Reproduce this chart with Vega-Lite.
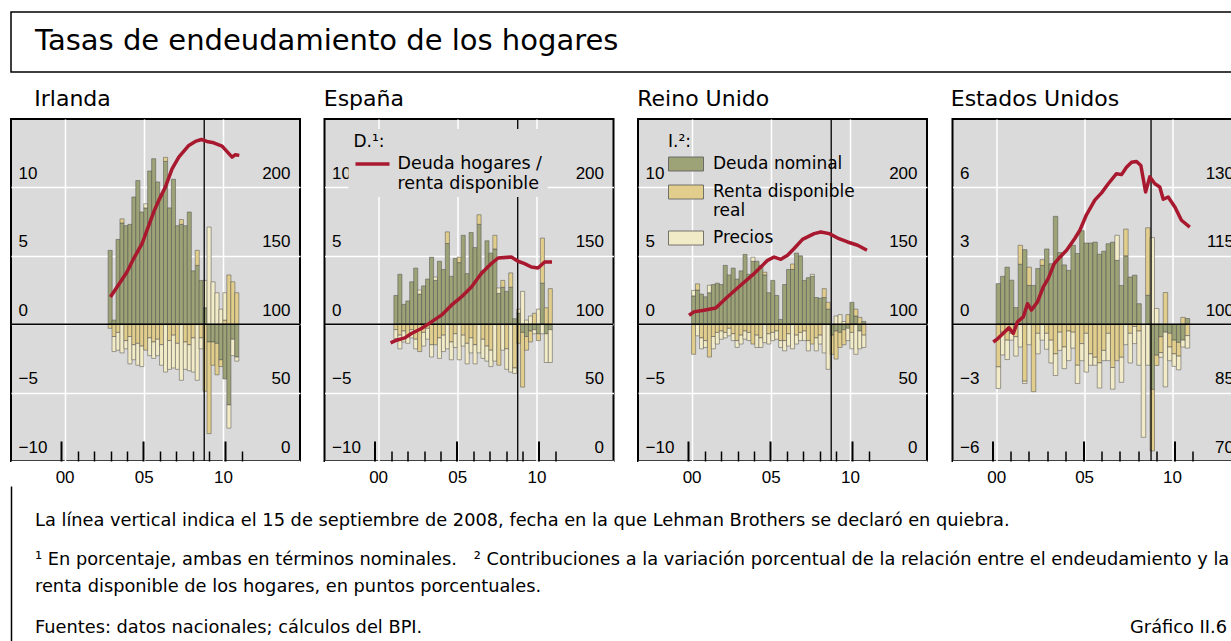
{
 "$schema": "https://vega.github.io/schema/vega-lite/v6.json",
 "background": "white",
 "padding": {"left": 9, "top": 11, "right": 0, "bottom": 0},
 "datasets": {
  "ie": [
   {"t":2002.875,"deuda":5.4,"disp":-0.3,"precios":0},
   {"t":2003.125,"deuda":0.3,"disp":-0.9,"precios":-1.1},
   {"t":2003.375,"deuda":6.2,"disp":-0.6,"precios":-1.3},
   {"t":2003.625,"deuda":7.4,"disp":0.3,"precios":-2.1},
   {"t":2003.875,"deuda":7.2,"disp":-1.2,"precios":-0.6},
   {"t":2004.125,"deuda":7.3,"disp":-0.9,"precios":-2.0},
   {"t":2004.375,"deuda":9.3,"disp":-1.5,"precios":-1.1},
   {"t":2004.625,"deuda":10.5,"disp":-1.4,"precios":-1.6},
   {"t":2004.875,"deuda":8.2,"disp":-1.6,"precios":-1.5},
   {"t":2005.125,"deuda":8.5,"disp":-1.9,"precios":0.3},
   {"t":2005.375,"deuda":11.2,"disp":-1.0,"precios":-1.3},
   {"t":2005.625,"deuda":12.1,"disp":-1.3,"precios":-1.2},
   {"t":2005.875,"deuda":10.4,"disp":-1.1,"precios":-1.2},
   {"t":2006.125,"deuda":9.5,"disp":-1.5,"precios":-1.5},
   {"t":2006.375,"deuda":11.9,"disp":0.3,"precios":-3.5},
   {"t":2006.625,"deuda":8.5,"disp":-1.2,"precios":-2.1},
   {"t":2006.875,"deuda":10.6,"disp":-0.8,"precios":-2.4},
   {"t":2007.125,"deuda":7.2,"disp":-1.4,"precios":-1.9},
   {"t":2007.375,"deuda":7.3,"disp":0.35,"precios":-4.1},
   {"t":2007.625,"deuda":7.2,"disp":-1.3,"precios":-2.0},
   {"t":2007.875,"deuda":8.2,"disp":-1.5,"precios":-1.9},
   {"t":2008.125,"deuda":3.9,"disp":-1.0,"precios":-2.5},
   {"t":2008.375,"deuda":4.3,"disp":1.1,"precios":-4.1},
   {"t":2008.625,"deuda":3.2,"disp":-1.0,"precios":-0.8},
   {"t":2008.875,"deuda":1.2,"disp":-4.9,"precios":2.0},
   {"t":2009.125,"deuda":-1.3,"disp":-6.7,"precios":7.1},
   {"t":2009.375,"deuda":-1.3,"disp":-1.7,"precios":3.1},
   {"t":2009.625,"deuda":-1.4,"disp":-2.3,"precios":2.3},
   {"t":2009.875,"deuda":-2.6,"disp":-0.5,"precios":1.1},
   {"t":2010.125,"deuda":-4.0,"disp":0.3,"precios":2.0},
   {"t":2010.375,"deuda":-5.9,"disp":3.6,"precios":-1.7},
   {"t":2010.625,"deuda":-1.1,"disp":3.1,"precios":-1.2},
   {"t":2010.875,"deuda":-2.4,"disp":2.3,"precios":-0.3}
  ],
  "es": [
   {"t":2001.125,"deuda":2.1,"disp":-0.4,"precios":-0.65},
   {"t":2001.375,"deuda":3.65,"disp":-0.8,"precios":-1.0},
   {"t":2001.625,"deuda":1.45,"disp":-0.5,"precios":-0.8},
   {"t":2001.875,"deuda":1.7,"disp":-0.9,"precios":-0.5},
   {"t":2002.125,"deuda":3.1,"disp":-0.4,"precios":-0.6},
   {"t":2002.375,"deuda":4.1,"disp":-1.1,"precios":-0.7},
   {"t":2002.625,"deuda":2.2,"disp":-2.0,"precios":0.3},
   {"t":2002.875,"deuda":2.8,"disp":-0.6,"precios":-1.0},
   {"t":2003.125,"deuda":3.3,"disp":-0.3,"precios":-0.8},
   {"t":2003.375,"deuda":4.9,"disp":-1.5,"precios":-0.9},
   {"t":2003.625,"deuda":3.2,"disp":-1.5,"precios":0.25},
   {"t":2003.875,"deuda":4.6,"disp":-1.0,"precios":-1.5},
   {"t":2004.125,"deuda":4.0,"disp":-0.8,"precios":-1.2},
   {"t":2004.375,"deuda":5.9,"disp":0.85,"precios":-1.8},
   {"t":2004.625,"deuda":3.5,"disp":-1.3,"precios":-1.3},
   {"t":2004.875,"deuda":4.8,"disp":-0.7,"precios":-1.0},
   {"t":2005.125,"deuda":4.5,"disp":0.4,"precios":-2.6},
   {"t":2005.375,"deuda":6.5,"disp":-0.8,"precios":-0.8},
   {"t":2005.625,"deuda":3.7,"disp":-1.4,"precios":-1.5},
   {"t":2005.875,"deuda":6.7,"disp":-1.0,"precios":-1.1},
   {"t":2006.125,"deuda":5.6,"disp":-1.5,"precios":-1.4},
   {"t":2006.375,"deuda":7.3,"disp":0.7,"precios":-2.1},
   {"t":2006.625,"deuda":3.9,"disp":-1.1,"precios":-1.4},
   {"t":2006.875,"deuda":6.1,"disp":-1.6,"precios":-1.1},
   {"t":2007.125,"deuda":5.2,"disp":-1.9,"precios":-1.2},
   {"t":2007.375,"deuda":5.5,"disp":1.0,"precios":-2.7},
   {"t":2007.625,"deuda":2.25,"disp":-3.0,"precios":0.4},
   {"t":2007.875,"deuda":2.7,"disp":0.5,"precios":-1.9},
   {"t":2008.125,"deuda":2.4,"disp":-1.8,"precios":-1.5},
   {"t":2008.375,"deuda":2.7,"disp":1.05,"precios":-3.5},
   {"t":2008.625,"deuda":0.4,"disp":-3.2,"precios":-0.4},
   {"t":2008.875,"deuda":0.8,"disp":-1.4,"precios":0.3},
   {"t":2009.125,"deuda":-0.6,"disp":-4.0,"precios":2.4},
   {"t":2009.375,"deuda":-0.9,"disp":-1.0,"precios":0.3},
   {"t":2009.625,"deuda":-0.5,"disp":-0.8,"precios":0.6},
   {"t":2009.875,"deuda":-0.4,"disp":0.8,"precios":-0.3},
   {"t":2010.125,"deuda":-0.7,"disp":-0.5,"precios":1.1},
   {"t":2010.375,"deuda":3.0,"disp":3.3,"precios":-0.7},
   {"t":2010.625,"deuda":-0.7,"disp":1.2,"precios":-2.1},
   {"t":2010.875,"deuda":-0.4,"disp":2.6,"precios":-2.4}
  ],
  "uk": [
   {"t":2000.125,"deuda":2.07,"disp":-2.2,"precios":0.4},
   {"t":2000.375,"deuda":2.5,"disp":0.45,"precios":-0.85},
   {"t":2000.625,"deuda":2.2,"disp":-1.0,"precios":-0.8},
   {"t":2000.875,"deuda":2.0,"disp":-1.2,"precios":-0.5},
   {"t":2001.125,"deuda":2.3,"disp":-2.4,"precios":0.55},
   {"t":2001.375,"deuda":2.9,"disp":-0.9,"precios":-0.9},
   {"t":2001.625,"deuda":3.0,"disp":-0.6,"precios":-0.85},
   {"t":2001.875,"deuda":2.9,"disp":-0.5,"precios":-0.6},
   {"t":2002.125,"deuda":4.3,"disp":-0.6,"precios":-0.4},
   {"t":2002.375,"deuda":3.6,"disp":-0.3,"precios":-0.55},
   {"t":2002.625,"deuda":4.1,"disp":-0.7,"precios":-0.5},
   {"t":2002.875,"deuda":3.3,"disp":-1.2,"precios":-0.5},
   {"t":2003.125,"deuda":3.9,"disp":-0.8,"precios":-0.65},
   {"t":2003.375,"deuda":5.1,"disp":-0.5,"precios":-0.6},
   {"t":2003.625,"deuda":3.65,"disp":-0.6,"precios":-0.6},
   {"t":2003.875,"deuda":4.6,"disp":-1.45,"precios":0.3},
   {"t":2004.125,"deuda":4.6,"disp":-0.8,"precios":-0.9},
   {"t":2004.375,"deuda":4.3,"disp":-1.0,"precios":-0.7},
   {"t":2004.625,"deuda":3.6,"disp":0.2,"precios":-1.35},
   {"t":2004.875,"deuda":2.3,"disp":-0.7,"precios":-0.75},
   {"t":2005.125,"deuda":3.2,"disp":-0.6,"precios":-0.6},
   {"t":2005.375,"deuda":2.1,"disp":-0.5,"precios":-0.6},
   {"t":2005.625,"deuda":0.35,"disp":-1.2,"precios":-0.5},
   {"t":2005.875,"deuda":2.9,"disp":-1.2,"precios":-0.75},
   {"t":2006.125,"deuda":4.0,"disp":-0.7,"precios":-0.9},
   {"t":2006.375,"deuda":4.0,"disp":0.4,"precios":-1.8},
   {"t":2006.625,"deuda":5.2,"disp":-0.8,"precios":-0.65},
   {"t":2006.875,"deuda":5.0,"disp":-0.6,"precios":-0.6},
   {"t":2007.125,"deuda":3.2,"disp":-0.5,"precios":-0.7},
   {"t":2007.375,"deuda":3.4,"disp":-1.2,"precios":-0.75},
   {"t":2007.625,"deuda":3.5,"disp":-1.45,"precios":0.15},
   {"t":2007.875,"deuda":1.95,"disp":-1.0,"precios":-0.95},
   {"t":2008.125,"deuda":1.9,"disp":-0.8,"precios":-0.65},
   {"t":2008.375,"deuda":1.95,"disp":0.65,"precios":-2.1},
   {"t":2008.625,"deuda":1.1,"disp":0.5,"precios":-3.3},
   {"t":2008.875,"deuda":-0.8,"disp":-1.4,"precios":0},
   {"t":2009.125,"deuda":-0.5,"disp":-2.05,"precios":0.6},
   {"t":2009.375,"deuda":-0.6,"disp":-1.1,"precios":0.7},
   {"t":2009.625,"deuda":-0.4,"disp":-1.1,"precios":0.2},
   {"t":2009.875,"deuda":-0.3,"disp":0.7,"precios":-0.9},
   {"t":2010.125,"deuda":1.6,"disp":-0.6,"precios":-1.2},
   {"t":2010.375,"deuda":0.6,"disp":0.5,"precios":-2.2},
   {"t":2010.625,"deuda":-0.5,"disp":0.5,"precios":-1.3},
   {"t":2010.875,"deuda":0.2,"disp":-0.8,"precios":-0.9}
  ],
  "us": [
   {"t":2000.125,"deuda":1.78,"disp":-1.87,"precios":-0.95},
   {"t":2000.375,"deuda":2.1,"disp":-0.35,"precios":-1.0},
   {"t":2000.625,"deuda":2.5,"disp":-0.7,"precios":-0.85},
   {"t":2000.875,"deuda":1.93,"disp":-0.4,"precios":-0.3},
   {"t":2001.125,"deuda":0.73,"disp":-0.55,"precios":-0.85},
   {"t":2001.375,"deuda":2.63,"disp":0.83,"precios":-1.0},
   {"t":2001.625,"deuda":3.27,"disp":-2.5,"precios":-0.1},
   {"t":2001.875,"deuda":1.7,"disp":0.8,"precios":-0.9},
   {"t":2002.125,"deuda":1.7,"disp":-2.96,"precios":0},
   {"t":2002.375,"deuda":2.44,"disp":-0.4,"precios":-0.9},
   {"t":2002.625,"deuda":2.58,"disp":0.25,"precios":-0.7},
   {"t":2002.875,"deuda":3.3,"disp":-0.4,"precios":-0.7},
   {"t":2003.125,"deuda":2.65,"disp":-0.7,"precios":-1.0},
   {"t":2003.375,"deuda":4.73,"disp":-1.3,"precios":-0.95},
   {"t":2003.625,"deuda":3.14,"disp":-0.35,"precios":-0.8},
   {"t":2003.875,"deuda":2.6,"disp":-1.0,"precios":-0.95},
   {"t":2004.125,"deuda":2.36,"disp":-0.3,"precios":-1.3},
   {"t":2004.375,"deuda":3.46,"disp":-0.35,"precios":-0.7},
   {"t":2004.625,"deuda":3.1,"disp":-1.8,"precios":-0.8},
   {"t":2004.875,"deuda":4.1,"disp":-0.85,"precios":-0.75},
   {"t":2005.125,"deuda":3.56,"disp":-0.4,"precios":-1.7},
   {"t":2005.375,"deuda":3.56,"disp":-1.3,"precios":-0.5},
   {"t":2005.625,"deuda":3.6,"disp":-1.45,"precios":-0.35},
   {"t":2005.875,"deuda":3.07,"disp":-1.7,"precios":-1.1},
   {"t":2006.125,"deuda":3.2,"disp":-1.15,"precios":-0.45},
   {"t":2006.375,"deuda":3.53,"disp":-0.4,"precios":-1.2},
   {"t":2006.625,"deuda":3.6,"disp":-1.9,"precios":-0.95},
   {"t":2006.875,"deuda":2.8,"disp":-1.6,"precios":1.1},
   {"t":2007.125,"deuda":1.7,"disp":-1.45,"precios":-1.1},
   {"t":2007.375,"deuda":3.0,"disp":1.17,"precios":-0.9},
   {"t":2007.625,"deuda":2.07,"disp":-0.4,"precios":-1.3},
   {"t":2007.875,"deuda":2.15,"disp":-0.1,"precios":-0.75},
   {"t":2008.125,"deuda":0.9,"disp":-0.3,"precios":-1.5},
   {"t":2008.375,"deuda":0,"disp":0,"precios":-4.96},
   {"t":2008.625,"deuda":1.27,"disp":2.96,"precios":-1.8},
   {"t":2008.875,"deuda":-2.86,"disp":-2.7,"precios":3.8},
   {"t":2009.125,"deuda":-1.36,"disp":-0.45,"precios":0.69},
   {"t":2009.375,"deuda":-0.55,"disp":-0.7,"precios":-0.2},
   {"t":2009.625,"deuda":-0.35,"disp":1.39,"precios":-2.4},
   {"t":2009.875,"deuda":-0.4,"disp":-0.6,"precios":-0.6},
   {"t":2010.125,"deuda":-0.7,"disp":-0.6,"precios":-0.55},
   {"t":2010.375,"deuda":-0.8,"disp":-0.6,"precios":-0.6},
   {"t":2010.625,"deuda":-0.7,"disp":0.3,"precios":-0.3},
   {"t":2010.875,"deuda":0.25,"disp":-0.5,"precios":-0.55}
  ],
  "ie_l": [
   {"t":2002.99,"v":119.9},{"t":2003.6,"v":130.9},{"t":2004.0,"v":138.2},{"t":2004.41,"v":148.0},
   {"t":2004.92,"v":158.9},{"t":2005.33,"v":172.3},{"t":2005.63,"v":182.0},{"t":2005.94,"v":190.5},
   {"t":2006.34,"v":200.2},{"t":2006.75,"v":213.6},{"t":2007.16,"v":222.1},{"t":2007.77,"v":230.7},
   {"t":2008.17,"v":233.6},{"t":2008.54,"v":235.0},{"t":2008.88,"v":233.6},{"t":2009.29,"v":232.6},
   {"t":2009.8,"v":230.2},{"t":2010.41,"v":222.1},{"t":2010.61,"v":223.9},{"t":2010.85,"v":223.4}
  ],
  "es_l": [
   {"t":2000.96,"v":86.4},{"t":2001.32,"v":88.3},{"t":2001.83,"v":90.0},{"t":2002.23,"v":93.2},
   {"t":2002.84,"v":96.9},{"t":2003.45,"v":101.7},{"t":2004.06,"v":106.6},{"t":2004.67,"v":113.9},
   {"t":2005.28,"v":119.9},{"t":2005.89,"v":127.2},{"t":2006.49,"v":137.0},{"t":2007.1,"v":144.3},
   {"t":2007.51,"v":148.4},{"t":2008.32,"v":149.1},{"t":2008.73,"v":146.0},{"t":2009.13,"v":144.3},
   {"t":2009.54,"v":141.8},{"t":2009.95,"v":141.1},{"t":2010.35,"v":145.5},{"t":2010.8,"v":145.5}
  ],
  "uk_l": [
   {"t":2000.04,"v":106.6},{"t":2000.34,"v":109.0},{"t":2000.95,"v":110.2},{"t":2001.67,"v":111.9},
   {"t":2002.38,"v":119.9},{"t":2003.19,"v":128.5},{"t":2004.01,"v":137.0},{"t":2004.83,"v":146.7},
   {"t":2005.23,"v":149.1},{"t":2005.64,"v":147.4},{"t":2006.05,"v":150.4},{"t":2006.45,"v":155.3},
   {"t":2006.96,"v":162.0},{"t":2007.67,"v":166.2},{"t":2008.08,"v":167.4},{"t":2008.59,"v":166.2},
   {"t":2009.1,"v":163.0},{"t":2009.71,"v":160.1},{"t":2010.32,"v":157.7},{"t":2010.89,"v":154.0}
  ],
  "us_l": [
   {"t":2000.04,"v":96.1},{"t":2000.31,"v":96.9},{"t":2000.59,"v":98.0},{"t":2000.9,"v":99.2},
   {"t":2001.14,"v":98.0},{"t":2001.37,"v":100.5},{"t":2001.69,"v":101.6},{"t":2001.92,"v":104.5},
   {"t":2002.14,"v":103.1},{"t":2002.47,"v":104.9},{"t":2002.79,"v":108.2},{"t":2003.06,"v":110.0},
   {"t":2003.39,"v":113.3},{"t":2003.7,"v":114.7},{"t":2004.07,"v":116.2},{"t":2004.52,"v":118.8},
   {"t":2004.8,"v":120.6},{"t":2005.16,"v":124.0},{"t":2005.62,"v":127.2},{"t":2005.99,"v":128.8},
   {"t":2006.36,"v":130.8},{"t":2006.81,"v":133.0},{"t":2007.09,"v":132.8},{"t":2007.36,"v":134.4},
   {"t":2007.64,"v":135.5},{"t":2007.91,"v":135.7},{"t":2008.15,"v":134.8},{"t":2008.41,"v":129.0},
   {"t":2008.64,"v":132.3},{"t":2008.92,"v":130.8},{"t":2009.19,"v":130.1},{"t":2009.38,"v":127.4},
   {"t":2009.65,"v":127.9},{"t":2010.02,"v":125.7},{"t":2010.38,"v":122.8},{"t":2010.84,"v":121.3}
  ]
 },
 "vconcat": [
  {
   "width": 1262, "height": 60,
   "view": {"stroke": "black", "strokeWidth": 1.5, "fill": "white"},
   "data": {"values": [{"titulo": "Tasas de endeudamiento de los hogares"}]},
   "mark": {"type": "text", "align": "left", "baseline": "middle", "fontSize": 29, "dx": 24, "dy": -1, "font": "DejaVu Sans", "color": "black"},
   "encoding": {
    "text": {"field": "titulo"},
    "x": {"datum": 0, "type": "quantitative", "scale": {"domain": [0, 1]}, "axis": null}
   }
  },
  {
   "vconcat": [
    {
     "hconcat": [
      {
       "width": 289, "height": 342,
       "title": {"text": "Irlanda", "dx": 24},
       "layer": [
        {
         "data": {"name": "ie"},
         "transform": [{"fold": ["deuda", "disp", "precios"], "as": ["k", "v"]}, {"filter": "datum.v != 0"}],
         "mark": {"type": "bar", "width": 4.1, "stroke": "#4d4d4d", "strokeWidth": 0.5},
         "encoding": {
          "x": {"field": "t", "type": "quantitative", "scale": {"domain": [1996.93, 2014.55], "nice": false, "zero": false},
                "axis": {"orient": "bottom", "values": [2000, 2005, 2010], "labelExpr": "substring(toString(datum.value), 2, 4)", "grid": true, "gridColor": "white", "gridWidth": 1.5, "ticks": false, "domain": false, "labelPadding": 8, "labelFlush": false, "title": null}},
          "y": {"field": "v", "type": "quantitative", "scale": {"domain": [-10, 15], "nice": false, "zero": false},
                "axis": {"orient": "left", "values": [-10, -5, 0, 5, 10], "grid": true, "gridColor": "white", "gridWidth": 1.5, "ticks": false, "domain": false, "labelAlign": "left", "labelPadding": -7, "labelBaseline": "bottom", "labelOffset": -5, "title": null}},
          "color": {"field": "k", "type": "nominal", "scale": {"domain": ["deuda", "disp", "precios"], "range": ["#9da376", "#e2ce8c", "#f2ebc7"]}, "legend": null},
          "order": {"field": "k", "type": "ordinal"}
         }
        },
        {
         "data": {"values": [{"cero": 0}]},
         "mark": {"type": "rule", "color": "black", "strokeWidth": 1.5},
         "encoding": {"y": {"field": "cero", "type": "quantitative", "scale": {"domain": [-10, 15], "nice": false, "zero": false}, "axis": null}}
        },
        {
         "data": {"values": [{"fecha": 2008.71}]},
         "mark": {"type": "rule", "color": "black", "strokeWidth": 1.3},
         "encoding": {"x": {"field": "fecha", "type": "quantitative", "scale": {"domain": [1996.93, 2014.55], "nice": false, "zero": false},
              "axis": {"orient": "bottom", "values": [2000, 2005, 2010], "tickSize": -20, "tickWidth": 2, "tickColor": "black", "labels": false, "grid": false, "domain": false, "title": null}}}
        },
        {
         "data": {"name": "ie_l"},
         "mark": {"type": "line", "color": "#a8182e", "strokeWidth": 3.5, "strokeJoin": "round"},
         "encoding": {
          "x": {"field": "t", "type": "quantitative", "scale": {"domain": [1996.93, 2014.55], "nice": false, "zero": false},
                "axis": {"orient": "bottom", "values": [2001, 2002, 2003, 2004, 2006, 2007, 2008, 2009, 2011], "tickSize": -10, "tickWidth": 1.5, "tickColor": "black", "labels": false, "grid": false, "domain": false, "title": null}},
          "y": {"field": "v", "type": "quantitative", "scale": {"domain": [0, 250], "nice": false, "zero": false},
                "axis": {"orient": "right", "values": [0, 50, 100, 150, 200], "grid": false, "ticks": false, "domain": false, "labelAlign": "right", "labelPadding": -10, "labelBaseline": "bottom", "labelOffset": -5, "title": null}}
         }
        }
       ],
       "resolve": {"scale": {"x": "independent", "y": "independent", "color": "independent"}, "axis": {"x": "independent", "y": "independent"}}
      },
      {
       "width": 289, "height": 342,
       "title": {"text": "España"},
       "layer": [
        {
         "data": {"name": "es"},
         "transform": [{"fold": ["deuda", "disp", "precios"], "as": ["k", "v"]}, {"filter": "datum.v != 0"}],
         "mark": {"type": "bar", "width": 4.1, "stroke": "#4d4d4d", "strokeWidth": 0.5},
         "encoding": {
          "x": {"field": "t", "type": "quantitative", "scale": {"domain": [1996.93, 2014.55], "nice": false, "zero": false},
                "axis": {"orient": "bottom", "values": [2000, 2005, 2010], "labelExpr": "substring(toString(datum.value), 2, 4)", "grid": true, "gridColor": "white", "gridWidth": 1.5, "ticks": false, "domain": false, "labelPadding": 8, "labelFlush": false, "title": null}},
          "y": {"field": "v", "type": "quantitative", "scale": {"domain": [-10, 15], "nice": false, "zero": false},
                "axis": {"orient": "left", "values": [-10, -5, 0, 5, 10], "grid": true, "gridColor": "white", "gridWidth": 1.5, "ticks": false, "domain": false, "labelAlign": "left", "labelPadding": -7, "labelBaseline": "bottom", "labelOffset": -5, "title": null}},
          "color": {"field": "k", "type": "nominal", "scale": {"domain": ["deuda", "disp", "precios"], "range": ["#9da376", "#e2ce8c", "#f2ebc7"]}, "legend": null},
          "order": {"field": "k", "type": "ordinal"}
         }
        },
        {
         "data": {"values": [{"cero": 0}]},
         "mark": {"type": "rule", "color": "black", "strokeWidth": 1.5},
         "encoding": {"y": {"field": "cero", "type": "quantitative", "scale": {"domain": [-10, 15], "nice": false, "zero": false}, "axis": null}}
        },
        {
         "data": {"values": [{"fecha": 2008.71}]},
         "mark": {"type": "rule", "color": "black", "strokeWidth": 1.3},
         "encoding": {"x": {"field": "fecha", "type": "quantitative", "scale": {"domain": [1996.93, 2014.55], "nice": false, "zero": false},
              "axis": {"orient": "bottom", "values": [2000, 2005, 2010], "tickSize": -20, "tickWidth": 2, "tickColor": "black", "labels": false, "grid": false, "domain": false, "title": null}}}
        },
        {
         "data": {"name": "es_l"},
         "mark": {"type": "line", "strokeWidth": 3.5, "strokeJoin": "round"},
         "encoding": {
          "x": {"field": "t", "type": "quantitative", "scale": {"domain": [1996.93, 2014.55], "nice": false, "zero": false},
                "axis": {"orient": "bottom", "values": [2001, 2002, 2003, 2004, 2006, 2007, 2008, 2009, 2011], "tickSize": -10, "tickWidth": 1.5, "tickColor": "black", "labels": false, "grid": false, "domain": false, "title": null}},
          "y": {"field": "v", "type": "quantitative", "scale": {"domain": [0, 250], "nice": false, "zero": false},
                "axis": {"orient": "right", "values": [0, 50, 100, 150, 200], "grid": false, "ticks": false, "domain": false, "labelAlign": "right", "labelPadding": -10, "labelBaseline": "bottom", "labelOffset": -5, "title": null}},
          "color": {"datum": "Deuda hogares / renta disponible", "type": "nominal", "scale": {"range": ["#a8182e"]},
                    "legend": {"title": "D.¹:", "orient": "none", "legendX": 24, "legendY": 10, "titlePadding": -6, "labelOffset": 6, "fillColor": "#dadada", "labelFontSize": 17.5, "symbolType": "stroke", "symbolSize": 1156, "symbolStrokeWidth": 3.5, "labelExpr": "['Deuda hogares /', 'renta disponible']"}}
         }
        }
       ],
       "resolve": {"scale": {"x": "independent", "y": "independent", "color": "independent"}, "axis": {"x": "independent", "y": "independent"}}
      },
      {
       "width": 289, "height": 342,
       "title": {"text": "Reino Unido"},
       "layer": [
        {
         "data": {"name": "uk"},
         "transform": [{"fold": ["deuda", "disp", "precios"], "as": ["k", "v"]}, {"filter": "datum.v != 0"}],
         "mark": {"type": "bar", "width": 4.1, "stroke": "#4d4d4d", "strokeWidth": 0.5},
         "encoding": {
          "x": {"field": "t", "type": "quantitative", "scale": {"domain": [1996.93, 2014.55], "nice": false, "zero": false},
                "axis": {"orient": "bottom", "values": [2000, 2005, 2010], "labelExpr": "substring(toString(datum.value), 2, 4)", "grid": true, "gridColor": "white", "gridWidth": 1.5, "ticks": false, "domain": false, "labelPadding": 8, "labelFlush": false, "title": null}},
          "y": {"field": "v", "type": "quantitative", "scale": {"domain": [-10, 15], "nice": false, "zero": false},
                "axis": {"orient": "left", "values": [-10, -5, 0, 5, 10], "grid": true, "gridColor": "white", "gridWidth": 1.5, "ticks": false, "domain": false, "labelAlign": "left", "labelPadding": -7, "labelBaseline": "bottom", "labelOffset": -5, "title": null}},
          "color": {"field": "k", "type": "nominal", "scale": {"domain": ["deuda", "disp", "precios"], "range": ["#9da376", "#e2ce8c", "#f2ebc7"]},
                    "legend": {"title": "I.²:", "orient": "none", "legendX": 25, "legendY": 10, "titlePadding": -5, "rowPadding": 1, "fillColor": "transparent", "symbolType": "M-1,-0.4H1V0.4H-1Z", "symbolSize": 1225, "symbolStrokeColor": "#555555", "symbolStrokeWidth": 0.8,
                               "labelExpr": "datum.value == 'deuda' ? 'Deuda nominal' : datum.value == 'disp' ? ['Renta disponible', 'real'] : 'Precios'"}},
          "order": {"field": "k", "type": "ordinal"}
         }
        },
        {
         "data": {"values": [{"cero": 0}]},
         "mark": {"type": "rule", "color": "black", "strokeWidth": 1.5},
         "encoding": {"y": {"field": "cero", "type": "quantitative", "scale": {"domain": [-10, 15], "nice": false, "zero": false}, "axis": null}}
        },
        {
         "data": {"values": [{"fecha": 2008.71}]},
         "mark": {"type": "rule", "color": "black", "strokeWidth": 1.3},
         "encoding": {"x": {"field": "fecha", "type": "quantitative", "scale": {"domain": [1996.93, 2014.55], "nice": false, "zero": false},
              "axis": {"orient": "bottom", "values": [2000, 2005, 2010], "tickSize": -20, "tickWidth": 2, "tickColor": "black", "labels": false, "grid": false, "domain": false, "title": null}}}
        },
        {
         "data": {"name": "uk_l"},
         "mark": {"type": "line", "color": "#a8182e", "strokeWidth": 3.5, "strokeJoin": "round"},
         "encoding": {
          "x": {"field": "t", "type": "quantitative", "scale": {"domain": [1996.93, 2014.55], "nice": false, "zero": false},
                "axis": {"orient": "bottom", "values": [2001, 2002, 2003, 2004, 2006, 2007, 2008, 2009, 2011], "tickSize": -10, "tickWidth": 1.5, "tickColor": "black", "labels": false, "grid": false, "domain": false, "title": null}},
          "y": {"field": "v", "type": "quantitative", "scale": {"domain": [0, 250], "nice": false, "zero": false},
                "axis": {"orient": "right", "values": [0, 50, 100, 150, 200], "grid": false, "ticks": false, "domain": false, "labelAlign": "right", "labelPadding": -10, "labelBaseline": "bottom", "labelOffset": -5, "title": null}}
         }
        }
       ],
       "resolve": {"scale": {"x": "independent", "y": "independent", "color": "independent"}, "axis": {"x": "independent", "y": "independent"}}
      },
      {
       "width": 297, "height": 342,
       "title": {"text": "Estados Unidos", "dx": -1},
       "layer": [
        {
         "data": {"name": "us"},
         "transform": [{"fold": ["deuda", "disp", "precios"], "as": ["k", "v"]}, {"filter": "datum.v != 0"}],
         "mark": {"type": "bar", "width": 4.5, "stroke": "#4d4d4d", "strokeWidth": 0.5},
         "encoding": {
          "x": {"field": "t", "type": "quantitative", "scale": {"domain": [1997.8, 2014.12], "nice": false, "zero": false},
                "axis": {"orient": "bottom", "values": [2000, 2005, 2010], "labelExpr": "substring(toString(datum.value), 2, 4)", "grid": true, "gridColor": "white", "gridWidth": 1.5, "ticks": false, "domain": false, "labelPadding": 8, "labelFlush": false, "title": null}},
          "y": {"field": "v", "type": "quantitative", "scale": {"domain": [-6, 9], "nice": false, "zero": false},
                "axis": {"orient": "left", "values": [-6, -3, 0, 3, 6], "grid": true, "gridColor": "white", "gridWidth": 1.5, "ticks": false, "domain": false, "labelAlign": "left", "labelPadding": -7, "labelBaseline": "bottom", "labelOffset": -5, "title": null}},
          "color": {"field": "k", "type": "nominal", "scale": {"domain": ["deuda", "disp", "precios"], "range": ["#9da376", "#e2ce8c", "#f2ebc7"]}, "legend": null},
          "order": {"field": "k", "type": "ordinal"}
         }
        },
        {
         "data": {"values": [{"cero": 0}]},
         "mark": {"type": "rule", "color": "black", "strokeWidth": 1.5},
         "encoding": {"y": {"field": "cero", "type": "quantitative", "scale": {"domain": [-6, 9], "nice": false, "zero": false}, "axis": null}}
        },
        {
         "data": {"values": [{"fecha": 2008.71}]},
         "mark": {"type": "rule", "color": "black", "strokeWidth": 1.3},
         "encoding": {"x": {"field": "fecha", "type": "quantitative", "scale": {"domain": [1997.8, 2014.12], "nice": false, "zero": false},
              "axis": {"orient": "bottom", "values": [2000, 2005, 2010], "tickSize": -20, "tickWidth": 2, "tickColor": "black", "labels": false, "grid": false, "domain": false, "title": null}}}
        },
        {
         "data": {"name": "us_l"},
         "mark": {"type": "line", "color": "#a8182e", "strokeWidth": 3.5, "strokeJoin": "round"},
         "encoding": {
          "x": {"field": "t", "type": "quantitative", "scale": {"domain": [1997.8, 2014.12], "nice": false, "zero": false},
                "axis": {"orient": "bottom", "values": [2001, 2002, 2003, 2004, 2006, 2007, 2008, 2009, 2011], "tickSize": -10, "tickWidth": 1.5, "tickColor": "black", "labels": false, "grid": false, "domain": false, "title": null}},
          "y": {"field": "v", "type": "quantitative", "scale": {"domain": [70, 145], "nice": false, "zero": false},
                "axis": {"orient": "right", "values": [70, 85, 100, 115, 130], "grid": false, "ticks": false, "domain": false, "labelAlign": "right", "labelPadding": -16, "labelBaseline": "bottom", "labelOffset": -5, "title": null}}
         }
        }
       ],
       "resolve": {"scale": {"x": "independent", "y": "independent", "color": "independent"}, "axis": {"x": "independent", "y": "independent"}}
      }
     ],
     "spacing": 20.5,
     "resolve": {"scale": {"x": "independent", "y": "independent", "color": "independent"}}
    },
    {
     "width": 1222, "height": 177,
     "view": {"stroke": null, "fill": null},
     "layer": [
      {
       "data": {"values": [
        {"n": "a", "nota": "La línea vertical indica el 15 de septiembre de 2008, fecha en la que Lehman Brothers se declaró en quiebra."},
        {"n": "c", "nota": "Fuentes: datos nacionales; cálculos del BPI."}
       ]},
       "mark": {"type": "text", "align": "left", "baseline": "middle", "fontSize": 17.8, "dx": 24, "font": "DejaVu Sans", "color": "black"},
       "encoding": {
        "text": {"field": "nota"},
        "x": {"datum": 0, "type": "quantitative", "scale": {"domain": [0, 1]}, "axis": null},
        "y": {"field": "n", "type": "nominal", "scale": {"type": "point", "padding": 0.654},
              "axis": {"orient": "left", "domain": true, "domainColor": "black", "domainWidth": 1.5, "labels": false, "ticks": false, "grid": false, "title": null}}
       }
      },
      {
       "data": {"values": [
        {"n": "b", "nota": "¹ En porcentaje, ambas en términos nominales.\u00a0\u00a0 ² Contribuciones a la variación porcentual de la relación entre el endeudamiento y la\nrenta disponible de los hogares, en puntos porcentuales."}
       ]},
       "mark": {"type": "text", "align": "left", "baseline": "middle", "fontSize": 17.8, "dx": 24, "dy": -15, "lineBreak": "\n", "lineHeight": 27, "font": "DejaVu Sans", "color": "black"},
       "encoding": {
        "text": {"field": "nota"},
        "x": {"datum": 0, "type": "quantitative", "scale": {"domain": [0, 1]}, "axis": null},
        "y": {"field": "n", "type": "nominal"}
       }
      },
      {
       "data": {"values": [{"n": "c", "nota": "Gráfico II.6"}]},
       "mark": {"type": "text", "align": "right", "baseline": "middle", "fontSize": 17.8, "dx": -6, "font": "DejaVu Sans", "color": "black"},
       "encoding": {
        "text": {"field": "nota"},
        "x": {"datum": 1, "type": "quantitative", "scale": {"domain": [0, 1]}, "axis": null},
        "y": {"field": "n", "type": "nominal"}
       }
      }
     ]
    }
   ],
   "spacing": 0,
   "resolve": {"scale": {"x": "independent", "y": "independent", "color": "independent"}}
  }
 ],
 "spacing": 14,
 "resolve": {"scale": {"x": "independent", "y": "independent", "color": "independent"}},
 "config": {
  "font": "DejaVu Sans",
  "view": {"stroke": "black", "strokeWidth": 2, "fill": "#dadada"},
  "axis": {"labelFont": "Liberation Sans", "labelFontSize": 17, "labelColor": "black"},
  "title": {"anchor": "start", "font": "DejaVu Sans", "fontSize": 22, "fontWeight": "normal", "color": "black", "offset": 7},
  "legend": {"titleFont": "DejaVu Sans", "labelFont": "DejaVu Sans", "titleFontSize": 17, "labelFontSize": 17, "titleFontWeight": "normal", "titleColor": "black", "labelColor": "black", "labelLimit": 400, "padding": 5, "titlePadding": 4, "rowPadding": 8, "labelOffset": 9},
  "text": {"font": "DejaVu Sans", "color": "black"}
 }
}
